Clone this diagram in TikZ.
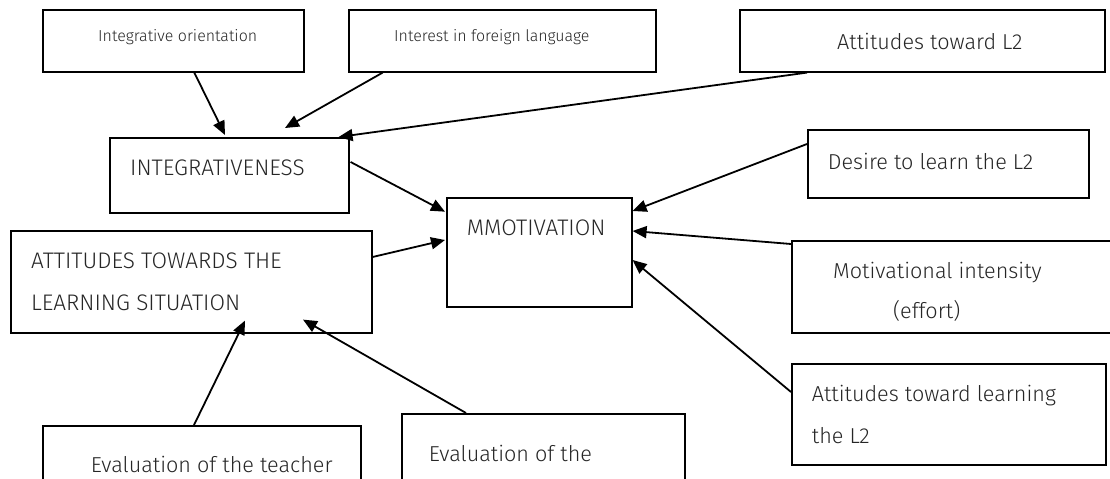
\documentclass[tikz,border=0pt]{standalone}
\usepackage{fontspec}
\newfontfamily\refont{Fira Sans}[UprightFont=* Light]
\usetikzlibrary{calc,arrows.meta}
\begin{document}
\begin{tikzpicture}[x=1bp,y=-1bp,
  box/.style={draw,line width=1.6bp,inner sep=0pt,anchor=north west},
  txt/.style={anchor=base west,inner sep=0pt,text=black!85},
  small/.style={font=\refont\fontsize{16}{18}\selectfont},
  big/.style={font=\refont\fontsize{21.7}{24}\selectfont},
  caps/.style={font=\refont\fontsize{22.6}{25}\selectfont},
  arr/.style={line width=1.8bp,-{Triangle[length=14bp,width=12bp]}}]
\clip (0,0) rectangle (1110,479);
\fill[white] (0,0) rectangle (1110,479);
% boxes
\node[box,minimum width=261bp,minimum height=62bp] (A) at (42,9) {};
\node[box,minimum width=307bp,minimum height=62bp] (B) at (348,9) {};
\node[box,minimum width=365bp,minimum height=62bp] (C) at (739,9) {};
\node[box,minimum width=239bp,minimum height=75bp] (I) at (109,137) {};
\node[box,minimum width=361bp,minimum height=102bp] (T) at (10,230) {};
\node[box,minimum width=185bp,minimum height=109bp] (M) at (446,197) {};
\node[box,minimum width=281bp,minimum height=68bp] (D) at (807,129) {};
\node[box,minimum width=340bp,minimum height=92bp] (MI) at (791,240) {};
\node[box,minimum width=314bp,minimum height=101bp] (AL) at (791,363) {};
\node[box,minimum width=318bp,minimum height=80bp] (ET) at (42,425) {};
\node[box,minimum width=283bp,minimum height=90bp] (E2) at (401,413) {};
% texts
\node[txt,small] (tA) at (98,41.5) {Integrative orientation};
\node[txt,small] (tB) at (394,41.5) {Interest in foreign language};
\node[txt,big] (tC) at (837,50) {Attitudes toward L2};
\node[txt,caps] (tI) at (130,176) {INTEGRATIVENESS};
\node[txt,caps] (tT1) at (31,268.3) {ATTITUDES TOWARDS THE};
\node[txt,caps] (tT2) at (31,311) {LEARNING SITUATION};
\node[txt,caps] (tM) at (466.7,236) {MMOTIVATION};
\node[txt,big] (tD) at (827.7,170) {Desire to learn the L2};
\node[txt,big] (tMI1) at (833,278.3) {Motivational intensity};
\node[txt,big] (tMI2) at (893,319) {(effort)};
\node[txt,big] (tAL1) at (811.7,401.7) {Attitudes toward learning};
\node[txt,big] (tAL2) at (811.7,443.3) {the L2};
\node[txt,big] (tET) at (90.6,472) {Evaluation of the teacher};
\node[txt,big] (tE2) at (428.6,461) {Evaluation of the};
% arrows
\draw[arr] ($(A.south west)+(152.3,0)$) -- ($(I.north west)+(116,-2)$);
\draw[arr] ($(B.south west)+(34.7,0)$) -- ($(I.north west)+(176,-9)$);
\draw[arr] ($(C.south west)+(68,0)$) -- ($(I.north east)+(-11,0)$);
\draw[arr] ($(I.north east)+(1,25)$) -- ($(M.north west)+(-1,14.7)$);
\draw[arr] ($(T.north east)+(0,27)$) -- ($(M.north west)+(-1,43)$);
\draw[arr] ($(D.north west)+(0,15)$) -- ($(M.north east)+(0,14)$);
\draw[arr] ($(MI.north west)+(0,4)$) -- ($(M.north east)+(0,34)$);
\draw[arr] ($(AL.north west)+(0,29)$) -- ($(M.north east)+(0,63)$);
\draw[arr] ($(ET.north west)+(152,0)$) -- ($(T.south west)+(235,-13)$);
\draw[arr] ($(E2.north west)+(65,0)$) -- ($(T.south west)+(293,-14)$);
\end{tikzpicture}
\end{document}
